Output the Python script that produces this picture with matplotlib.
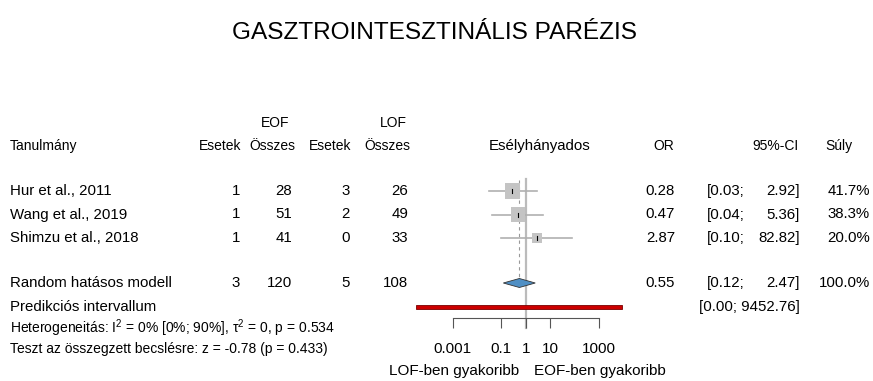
import numpy as np
import matplotlib
matplotlib.use("Agg")
import matplotlib.pyplot as plt
from matplotlib.ticker import NullLocator, FixedLocator, FixedFormatter

plt.rcParams['font.family'] = ['Liberation Sans', 'DejaVu Sans']
plt.rcParams['mathtext.fontset'] = 'custom'
plt.rcParams['mathtext.rm'] = 'Liberation Sans'
plt.rcParams['mathtext.it'] = 'Liberation Sans'
plt.rcParams['mathtext.default'] = 'regular'

# adatok
studies = ["Hur et al., 2011", "Wang et al., 2019", "Shimzu et al., 2018"]
eof_events = [1, 1, 1]
eof_total = [28, 51, 41]
lof_events = [3, 2, 0]
lof_total = [26, 49, 33]
or_est = [0.28, 0.47, 2.87]
ci_lo = [0.03, 0.04, 0.10]
ci_hi = [2.92, 5.36, 82.82]
weights = [41.7, 38.3, 20.0]

pooled_label = "Random hatásos modell"
pooled_or = 0.55
pooled_lo = 0.12
pooled_hi = 2.47
pi_lo = 0.00003   # kiirva 0.00
pi_hi = 9452.76

tick_vals = [0.001, 0.1, 1, 10, 1000]
tick_labels = ["0.001", "0.1", "1", "10", "1000"]

W, H = 873, 381
fig = plt.figure(figsize=(W / 100, H / 100), dpi=100)

# szoveg reteg pixel koordinatakkal
ax = fig.add_axes([0, 0, 1, 1])
ax.set_xlim(0, W)
ax.set_ylim(H, 0)
ax.axis('off')

fs = 10.8
fh = 10
row_y = [191, 214.5, 238]
y_pool = 283
y_pi = 307

ax.text(434, 33, "GASZTROINTESZTINÁLIS PARÉZIS", ha='center', va='center', fontsize=17.6)

# fejlec
ax.text(275, 123, "EOF", ha='center', va='center', fontsize=fh)
ax.text(393, 123, "LOF", ha='center', va='center', fontsize=fh)
ax.text(10, 146, "Tanulmány", ha='left', va='center', fontsize=fh)
ax.text(241, 146, "Esetek", ha='right', va='center', fontsize=fh)
ax.text(295, 146, "Összes", ha='right', va='center', fontsize=fh)
ax.text(351, 146, "Esetek", ha='right', va='center', fontsize=fh)
ax.text(410, 146, "Összes", ha='right', va='center', fontsize=fh)
ax.text(540, 146, "Esélyhányados", ha='center', va='center', fontsize=fs)
ax.text(674, 146, "OR", ha='right', va='center', fontsize=fh)
ax.text(799, 146, "95%-CI", ha='right', va='center', fontsize=fh)
ax.text(825, 146, "Súly", ha='left', va='center', fontsize=fh)

def row_text(y, name, e1, n1, e2, n2, est, lo, hi, w):
    ax.text(10, y, name, ha='left', va='center', fontsize=fs)
    if e1 is not None:
        ax.text(240, y, str(e1), ha='right', va='center', fontsize=fs)
        ax.text(292, y, str(n1), ha='right', va='center', fontsize=fs)
        ax.text(350, y, str(e2), ha='right', va='center', fontsize=fs)
        ax.text(408, y, str(n2), ha='right', va='center', fontsize=fs)
    if est is not None:
        ax.text(675, y, "%.2f" % est, ha='right', va='center', fontsize=fs)
        ax.text(707, y, "[%.2f;" % lo, ha='left', va='center', fontsize=fs)
        ax.text(800, y, "%.2f]" % hi, ha='right', va='center', fontsize=fs)
    else:
        ax.text(800, y, "[%.2f; %.2f]" % (lo, hi), ha='right', va='center', fontsize=fs)
    if w is not None:
        ax.text(870, y, "%.1f%%" % w, ha='right', va='center', fontsize=fs)

for i in range(len(studies)):
    row_text(row_y[i], studies[i], eof_events[i], eof_total[i], lof_events[i], lof_total[i],
             or_est[i], ci_lo[i], ci_hi[i], weights[i])
row_text(y_pool, pooled_label, sum(eof_events), sum(eof_total), sum(lof_events), sum(lof_total),
         pooled_or, pooled_lo, pooled_hi, 100.0)
row_text(y_pi, "Predikciós intervallum", None, None, None, None, None, 0.0, pi_hi, None)

ax.text(10, 328, "Heterogeneitás: $I^2$ = 0% [0%; 90%], τ$^2$ = 0, p = 0.534",
        ha='left', va='center', fontsize=10)
ax.text(10, 349, "Teszt az összegzett becslésre: z = -0.78 (p = 0.433)",
        ha='left', va='center', fontsize=10)

ax.text(519, 371, "LOF-ben gyakoribb", ha='right', va='center', fontsize=11)
ax.text(534, 371, "EOF-ben gyakoribb", ha='left', va='center', fontsize=11)

# forest panel: log skala, 1 -> 525.7 px, 24.3 px / dekad
x0, x1 = 400, 650
fax = fig.add_axes([x0 / W, 0, (x1 - x0) / W, 1])
fax.set_xscale('log')
fax.set_xlim(10 ** ((x0 - 525.7) / 24.3), 10 ** ((x1 - 525.7) / 24.3))
fax.set_ylim(H, 0)
fax.patch.set_visible(False)
for s in ['top', 'left', 'right']:
    fax.spines[s].set_visible(False)
fax.spines['bottom'].set_position(('data', 318))
fax.spines['bottom'].set_bounds(tick_vals[0], tick_vals[-1])
fax.spines['bottom'].set_color('#555555')
fax.spines['bottom'].set_linewidth(0.8)
fax.xaxis.set_major_locator(FixedLocator(tick_vals))
fax.xaxis.set_major_formatter(FixedFormatter(tick_labels))
fax.xaxis.set_minor_locator(NullLocator())
fax.tick_params(axis='x', direction='out', length=7.2, width=0.8, color='#555555',
                labelsize=11, pad=10)
fax.set_yticks([])

# referencia vonal es osszegzett becsles
fax.plot([1, 1], [179, 328], color='#bbbbbb', lw=1.6, zorder=1)
fax.plot([pooled_or, pooled_or], [180, y_pool], color='#999999', lw=0.8,
         ls=(0, (3, 3)), zorder=1)

for i in range(len(studies)):
    y = row_y[i]
    fax.plot([ci_lo[i], ci_hi[i]], [y, y], color='#b0b0b0', lw=1.2, zorder=2)
    side = 2.33 * np.sqrt(weights[i]) * 0.72
    fax.scatter([or_est[i]], [y], marker='s', s=side ** 2, color='#c4c4c4',
                edgecolors='none', zorder=3)
    fax.plot([or_est[i], or_est[i]], [y - 2, y + 2], color='black', lw=0.8, zorder=4)

# diamond
fax.fill([pooled_lo, pooled_or, pooled_hi, pooled_or],
         [y_pool, y_pool - 4.5, y_pool, y_pool + 4.5],
         facecolor='#4f8fc4', edgecolor='#333333', lw=0.6, zorder=3)

# predikcios intervallum
fax.fill([pi_lo, pi_hi, pi_hi, pi_lo],
         [y_pi - 2.3, y_pi - 2.3, y_pi + 2.3, y_pi + 2.3],
         facecolor='#cc0000', edgecolor='#7a0000', lw=0.6, zorder=3)

fig.savefig("out.png", dpi=100)
